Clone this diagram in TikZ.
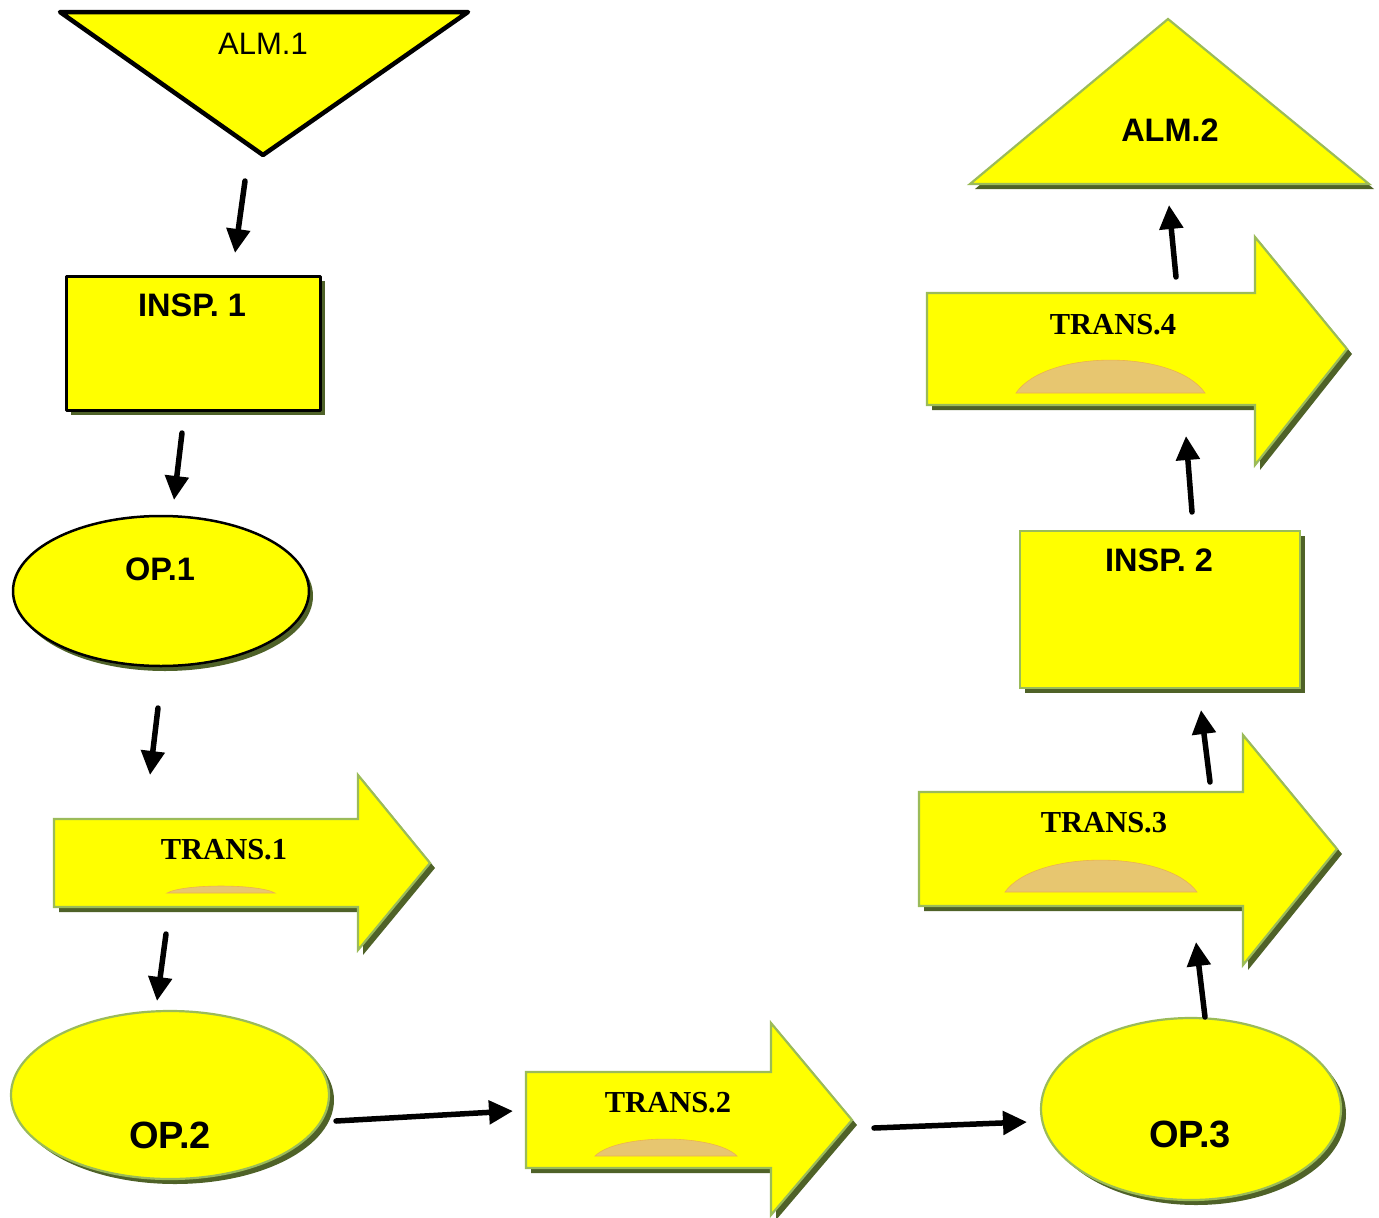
\documentclass[tikz,border=0pt]{standalone}
\usepackage{fontspec}
\setmainfont{Liberation Sans}
\newfontfamily\labelserif{Liberation Serif}
\usetikzlibrary{arrows.meta}

\definecolor{fillyellow}{RGB}{255,255,0}
\definecolor{edgegreen}{RGB}{155,187,89}
\definecolor{shadowolive}{RGB}{79,98,40}
\definecolor{sand}{RGB}{231,198,112}
\definecolor{sandedge}{RGB}{236,178,80}

\tikzset{
  x=1pt, y=-1pt,
  boxshadow/.style={fill=shadowolive, draw=none},
  blackshape/.style={fill=fillyellow, draw=black, line join=round},
  greenshape/.style={fill=fillyellow, draw=edgegreen, line width=2.2pt, line join=miter},
  sanslbl/.style={font=\fontsize{32.5}{38}\selectfont\bfseries, inner sep=0pt, anchor=center},
  plainlbl/.style={font=\fontsize{31}{36}\selectfont, inner sep=0pt, anchor=center},
  bigsanslbl/.style={font=\fontsize{38}{44}\selectfont\bfseries, inner sep=0pt, anchor=center},
  seriflbl/.style={font=\fontsize{30.5}{36}\selectfont\labelserif\bfseries, inner sep=0pt, anchor=center},
  flow/.style={draw=black, line width=5.5pt, line cap=round,
    -{Triangle[length=24pt, width=23pt]}},
  sandcap/.style={fill=sand, draw=sandedge, line width=0.6pt},
}

% block arrow: left x, body top, body bottom, head x, head top, head bottom, tip x
\newcommand\blockarrowpath[7]{%
  (#1,#2) -- (#4,#2) -- (#4,#5) -- (#7,{(#2+#3)/2}) -- (#4,#6) -- (#4,#3) -- (#1,#3) -- cycle}

\newcommand\blockarrow[7]{%
  \fill[boxshadow, shift={(5,5)}] \blockarrowpath{#1}{#2}{#3}{#4}{#5}{#6}{#7};
  \draw[greenshape] \blockarrowpath{#1}{#2}{#3}{#4}{#5}{#6}{#7};}

% sand-coloured cap inside a block arrow: left x, right x, base y, peak y
\newcommand\sandhump[4]{%
  \path[sandcap] (#1,#3) .. controls ({#1+0.16*(#2-#1)},{#3-1.33*(#3-#4)})
     and ({#2-0.16*(#2-#1)},{#3-1.33*(#3-#4)}) .. (#2,#3) -- cycle;}

\begin{document}
\begin{tikzpicture}
\useasboundingbox (0,0) rectangle (1379,1218);

% ---------- left column ----------
% ALM.1 storage (inverted triangle)
\draw[blackshape, line width=4.5pt] (60,12) -- (468,12) -- (263,155) -- cycle;
\node[plainlbl] (alm1) at (263,44) {ALM.1};

% INSP. 1 box
\fill[boxshadow] (71,281) rectangle (325,415);
\draw[blackshape, line width=3pt] (66,276) rectangle (320,410);
\node[sanslbl] (insp1) at (192,305) {INSP. 1};

% OP.1 ellipse
\fill[boxshadow] (165,596) ellipse [x radius=148, y radius=75];
\draw[blackshape, line width=2.5pt] (161,591) ellipse [x radius=148, y radius=75];
\node[sanslbl] (op1) at (160,569) {OP.1};

% TRANS.1 transport arrow
\blockarrow{54}{819}{907}{358}{775}{950}{430}
\sandhump{167}{275}{893}{886}
\node[seriflbl] (trans1) at (224,850) {TRANS.1};

% OP.2 ellipse
\fill[boxshadow] (175,1100) ellipse [x radius=159, y radius=84];
\draw[greenshape] (170,1095) ellipse [x radius=159, y radius=84];
\node[bigsanslbl] (op2) at (170,1135) {OP.2};

% ---------- bottom row ----------
% TRANS.2 transport arrow
\blockarrow{526}{1072}{1168}{771}{1023}{1215}{852}
\sandhump{595}{737}{1156}{1139}
\node[seriflbl] (trans2) at (668,1103) {TRANS.2};

% OP.3 ellipse
\fill[boxshadow] (1196,1114) ellipse [x radius=150, y radius=91];
\draw[greenshape] (1191,1109) ellipse [x radius=150, y radius=91];
\node[bigsanslbl] (op3) at (1190,1134) {OP.3};

% ---------- right column ----------
% TRANS.3 transport arrow
\blockarrow{919}{792}{906}{1243}{735}{965}{1337}
\sandhump{1005}{1197}{892}{860}
\node[seriflbl] (trans3) at (1104,823) {TRANS.3};

% INSP. 2 box
\fill[boxshadow] (1025,536) rectangle (1305,693);
\draw[greenshape] (1020,531) rectangle (1300,688);
\node[sanslbl] (insp2) at (1159,560) {INSP. 2};

% TRANS.4 transport arrow
\blockarrow{927}{293}{405}{1255}{237}{465}{1347}
\sandhump{1016}{1205}{393}{360}
\node[seriflbl] (trans4) at (1113,325) {TRANS.4};

% ALM.2 storage (triangle)
\fill[boxshadow] (975,189) -- (1374,189) -- (1173,24) -- cycle;
\draw[greenshape] (970,184) -- (1369,184) -- (1168,19) -- cycle;
\node[sanslbl] (alm2) at (1170,130) {ALM.2};

% ---------- flow arrows ----------
\coordinate (f1s) at (245,181);  \coordinate (f1e) at (235,253);
\coordinate (f2s) at (182,433);  \coordinate (f2e) at (174,500);
\coordinate (f3s) at (158,708);  \coordinate (f3e) at (150,775);
\coordinate (f4s) at (166,934);  \coordinate (f4e) at (157,1001);
\coordinate (f5s) at (336,1121); \coordinate (f5e) at (513,1111);
\coordinate (f6s) at (874,1128); \coordinate (f6e) at (1027,1122);
\coordinate (f7s) at (1205,1017); \coordinate (f7e) at (1196,942);
\coordinate (f8s) at (1210,782); \coordinate (f8e) at (1201,710);
\coordinate (f9s) at (1192,512); \coordinate (f9e) at (1186,436);
\coordinate (f10s) at (1176,277); \coordinate (f10e) at (1169,205);

\foreach \i in {1,...,10}
  \draw[flow] (f\i s) -- (f\i e);

\end{tikzpicture}
\end{document}
